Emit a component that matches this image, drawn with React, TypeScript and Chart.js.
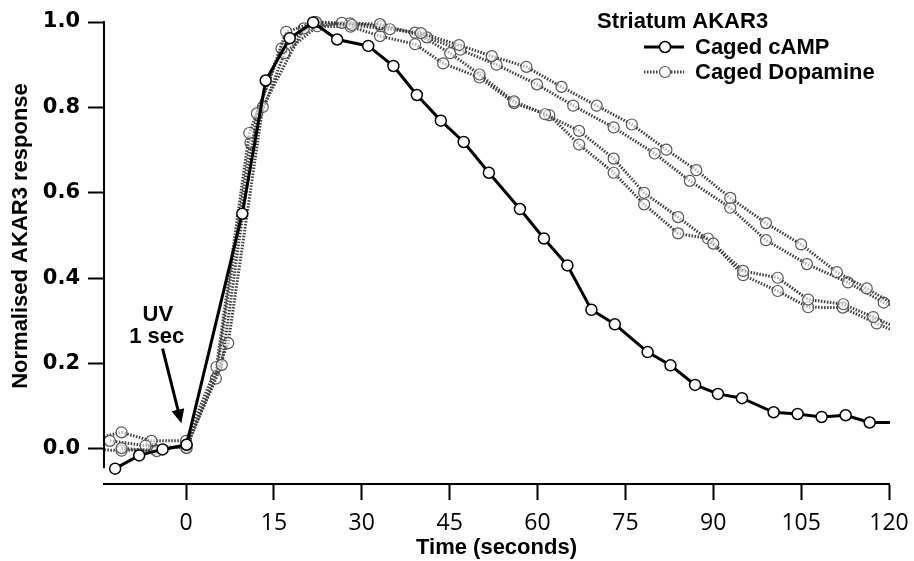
import React, { useEffect, useRef } from "react";
import { Chart, registerables } from "chart.js";

Chart.register(...registerables);

// ---------- data ----------
const X_TICKS = [0, 15, 30, 45, 60, 75, 90, 105, 120];
const Y_TICKS = [0, 0.2, 0.4, 0.6, 0.8, 1.0];

const CAMP_LABEL = "Caged cAMP";
const DA_LABEL = "Caged Dopamine";
const LEGEND_TITLE = "Striatum AKAR3";
const X_TITLE = "Time (seconds)";
const Y_TITLE = "Normalised AKAR3 response";
const UV_LINE1 = "UV";
const UV_LINE2 = "1 sec";

const CAMP_T = [-12.1, -8.0, -4.0, 0.1, 9.6, 13.6, 17.7, 21.7, 25.8, 31.1, 35.4, 39.4, 43.5, 47.4, 51.7, 57.0, 61.1, 65.1, 69.2, 73.2, 78.8, 82.7, 86.9, 90.8, 94.9, 100.3, 104.4, 108.5, 112.6, 116.7, 122];
const CAMP_Y = [-0.046, -0.015, -0.001, 0.01, 0.551, 0.863, 0.962, 0.999, 0.959, 0.944, 0.897, 0.829, 0.769, 0.719, 0.647, 0.562, 0.493, 0.43, 0.326, 0.292, 0.227, 0.196, 0.15, 0.129, 0.119, 0.086, 0.082, 0.075, 0.079, 0.062, 0.062];

const DA1_T = [-11.0, -5.0, 0.1, 6.1, 12.1, 17.1, 22.2, 28.3, 34.8, 40.1, 46.6, 52.2, 58.1, 64.1, 70.1, 76.1, 82.0, 87.1, 92.9, 99.0, 105.0, 111.1, 116.2, 122];
const DA1_Y = [0.002, -0.005, 0.01, 0.197, 0.786, 0.977, 1.0, 0.993, 0.983, 0.974, 0.946, 0.92, 0.895, 0.848, 0.804, 0.76, 0.701, 0.653, 0.588, 0.529, 0.479, 0.414, 0.376, 0.33];

const DA2_T = [-13.0, -6.9, 0.1, 7.2, 13.1, 20.1, 26.6, 33.1, 41.1, 46.8, 53.0, 59.9, 66.1, 73.0, 80.0, 86.0, 92.9, 99.0, 106.0, 113.0, 119.1, 122];
const DA2_Y = [0.019, 0.008, 0.002, 0.248, 0.801, 0.985, 0.998, 0.995, 0.964, 0.935, 0.9, 0.854, 0.804, 0.753, 0.692, 0.628, 0.565, 0.489, 0.433, 0.39, 0.343, 0.33];

const DA3_T = [-17, -11.0, -5.9, 0.0, 5.2, 10.8, 16.3, 22.0, 28.0, 33.3, 39.1, 45.1, 50.1, 56.0, 61.3, 67.1, 73.0, 78.2, 84.0, 90.0, 95.1, 101.0, 106.2, 112.2, 117.3, 122];
const DA3_Y = [0.02, 0.039, 0.019, 0.019, 0.192, 0.74, 0.938, 1.0, 0.997, 0.99, 0.975, 0.927, 0.877, 0.814, 0.784, 0.745, 0.68, 0.6, 0.543, 0.481, 0.417, 0.401, 0.35, 0.339, 0.309, 0.28];

const DA4_T = [-17, -11.0, -5.5, 0.0, 5.1, 11.0, 16.8, 22.4, 28.1, 33.1, 39.1, 43.9, 50.1, 56.0, 62.0, 67.1, 73.0, 78.2, 84.0, 89.1, 95.1, 101.0, 106.2, 112.1, 117.9, 122];
const DA4_Y = [0.0, -0.004, 0.0, 0.005, 0.165, 0.717, 0.927, 0.99, 0.989, 0.967, 0.948, 0.903, 0.87, 0.81, 0.782, 0.713, 0.647, 0.573, 0.505, 0.493, 0.407, 0.37, 0.332, 0.331, 0.294, 0.27];

// ---------- styles ----------
const BOLD_FONT = '"Liberation Sans", Arial, sans-serif';
const DA_COLOR = "#3c3c3c";
const DA_MARKER = "#555555";
const DA_DASH = [1.5, 1.5];

const toPts = (t: number[], y: number[]) => t.map((v, i) => ({ x: v, y: y[i] }));

const CLIP = { left: 1, top: 12, right: 1, bottom: 12 };

const daDataset = (t: number[], y: number[]) => ({
  label: DA_LABEL,
  data: toPts(t, y),
  borderColor: DA_COLOR,
  borderWidth: 3,
  borderDash: DA_DASH,
  pointRadius: 5.5,
  pointBorderWidth: 1.2,
  pointBorderColor: DA_MARKER,
  pointBackgroundColor: "rgba(255,255,255,0.6)",
  tension: 0,
  clip: CLIP,
});

const overlayPlugin = {
  id: "overlay",
  afterDraw(chart: any) {
    const ctx = chart.ctx as CanvasRenderingContext2D;
    const xs = chart.scales.x;
    const ys = chart.scales.y;
    const area = chart.chartArea;
    ctx.save();

    // y axis line (detached, stops just below 0)
    ctx.strokeStyle = "#000";
    ctx.lineWidth = 2;
    ctx.beginPath();
    ctx.moveTo(area.left, ys.getPixelForValue(1.0) - 1);
    ctx.lineTo(area.left, ys.getPixelForValue(-0.045));
    ctx.stroke();

    // y title
    ctx.fillStyle = "#000";
    ctx.font = `bold 22px ${BOLD_FONT}`;
    ctx.textAlign = "center";
    ctx.textBaseline = "middle";
    ctx.save();
    ctx.translate(21, 236);
    ctx.rotate(-Math.PI / 2);
    ctx.fillText(Y_TITLE, 0, 0);
    ctx.restore();

    // legend
    ctx.textAlign = "left";
    ctx.fillText(LEGEND_TITLE, 597, 22);
    ctx.fillText(CAMP_LABEL, 695, 48);
    ctx.fillText(DA_LABEL, 695, 73);

    // cAMP sample
    ctx.strokeStyle = "#000";
    ctx.lineWidth = 3;
    ctx.setLineDash([]);
    ctx.beginPath();
    ctx.moveTo(644, 47);
    ctx.lineTo(684, 47);
    ctx.stroke();
    ctx.beginPath();
    ctx.arc(665, 47, 5.5, 0, Math.PI * 2);
    ctx.fillStyle = "#fff";
    ctx.fill();
    ctx.lineWidth = 1.5;
    ctx.stroke();

    // dopamine sample
    ctx.strokeStyle = DA_COLOR;
    ctx.lineWidth = 3;
    ctx.setLineDash(DA_DASH);
    ctx.beginPath();
    ctx.moveTo(644, 72);
    ctx.lineTo(684, 72);
    ctx.stroke();
    ctx.setLineDash([]);
    ctx.beginPath();
    ctx.arc(665, 72, 5.5, 0, Math.PI * 2);
    ctx.fillStyle = "#fff";
    ctx.fill();
    ctx.strokeStyle = DA_MARKER;
    ctx.lineWidth = 1.2;
    ctx.stroke();

    // UV annotation
    ctx.fillStyle = "#000";
    ctx.textAlign = "center";
    ctx.textBaseline = "middle";
    ctx.font = `bold 22px ${BOLD_FONT}`;
    ctx.fillText(UV_LINE1, xs.getPixelForValue(-4.8), ys.getPixelForValue(0.315));
    ctx.fillText(UV_LINE2, xs.getPixelForValue(-5.0), ys.getPixelForValue(0.262));

    const sx = xs.getPixelForValue(-4.0);
    const sy = ys.getPixelForValue(0.235);
    const tx = xs.getPixelForValue(-0.8);
    const ty = ys.getPixelForValue(0.06);
    const dx = tx - sx;
    const dy = ty - sy;
    const len = Math.hypot(dx, dy);
    const ux = dx / len;
    const uy = dy / len;
    const headL = 14;
    const headW = 6.5;
    const bx = tx - ux * headL;
    const by = ty - uy * headL;
    ctx.strokeStyle = "#000";
    ctx.lineWidth = 3;
    ctx.beginPath();
    ctx.moveTo(sx, sy);
    ctx.lineTo(bx + ux * 2, by + uy * 2);
    ctx.stroke();
    ctx.beginPath();
    ctx.moveTo(tx, ty);
    ctx.lineTo(bx - uy * headW, by + ux * headW);
    ctx.lineTo(bx + uy * headW, by - ux * headW);
    ctx.closePath();
    ctx.fill();

    ctx.restore();
  },
};

export default function App() {
  const ref = useRef<HTMLCanvasElement | null>(null);

  useEffect(() => {
    if (!ref.current) return;
    const chart = new Chart(ref.current, {
      type: "line",
      data: {
        datasets: [
          {
            label: CAMP_LABEL,
            data: toPts(CAMP_T, CAMP_Y),
            borderColor: "#000",
            borderWidth: 3,
            pointRadius: 5.5,
            pointBorderWidth: 1.5,
            pointBorderColor: "#000",
            pointBackgroundColor: "#fff",
            tension: 0,
            clip: CLIP,
          } as any,
          daDataset(DA1_T, DA1_Y) as any,
          daDataset(DA2_T, DA2_Y) as any,
          daDataset(DA3_T, DA3_Y) as any,
          daDataset(DA4_T, DA4_Y) as any,
        ],
      },
      options: {
        responsive: false,
        animation: false,
        devicePixelRatio: 1,
        layout: { padding: { left: 0, top: 22, right: 25, bottom: 0 } },
        plugins: {
          legend: { display: false },
          tooltip: { enabled: false },
        },
        scales: {
          x: {
            type: "linear",
            min: -14,
            max: 120,
            afterFit: (s: any) => {
              s.height = 77;
              s.paddingLeft = 0;
              s.paddingRight = 0;
            },
            afterBuildTicks: (s: any) => {
              s.ticks = X_TICKS.map((v) => ({ value: v }));
            },
            grid: {
              drawOnChartArea: false,
              drawTicks: true,
              tickLength: 16,
              tickWidth: 2,
              tickColor: "#000",
            },
            border: { display: true, color: "#000", width: 2 },
            ticks: {
              color: "#000",
              font: { family: '"Open Sans"', size: 23 },
              padding: 10,
              maxRotation: 0,
              autoSkip: false,
              callback: (v: any) => String(v),
            },
            title: {
              display: true,
              text: X_TITLE,
              color: "#000",
              font: { family: BOLD_FONT, size: 22, weight: "bold" },
              padding: { top: 0, bottom: 0 },
            },
          },
          y: {
            type: "linear",
            min: -0.082,
            max: 1.0,
            afterFit: (s: any) => {
              s.width = 104;
              s.paddingTop = 0;
              s.paddingBottom = 0;
            },
            afterBuildTicks: (s: any) => {
              s.ticks = Y_TICKS.map((v) => ({ value: v }));
            },
            grid: {
              drawOnChartArea: false,
              drawTicks: true,
              tickLength: 16,
              tickWidth: 2,
              tickColor: "#000",
            },
            border: { display: false },
            ticks: {
              color: "#000",
              font: { family: '"DejaVu Sans"', size: 21, weight: "bold" },
              padding: 8,
              callback: (v: any) => Number(v).toFixed(1),
            },
          },
        },
      } as any,
      plugins: [overlayPlugin],
    });
    return () => chart.destroy();
  }, []);

  return (
    <div style={{ position: "absolute", left: 0, top: 0, width: 914, height: 561, background: "#fff" }}>
      <canvas ref={ref} width={914} height={561} style={{ display: "block" }} />
    </div>
  );
}
